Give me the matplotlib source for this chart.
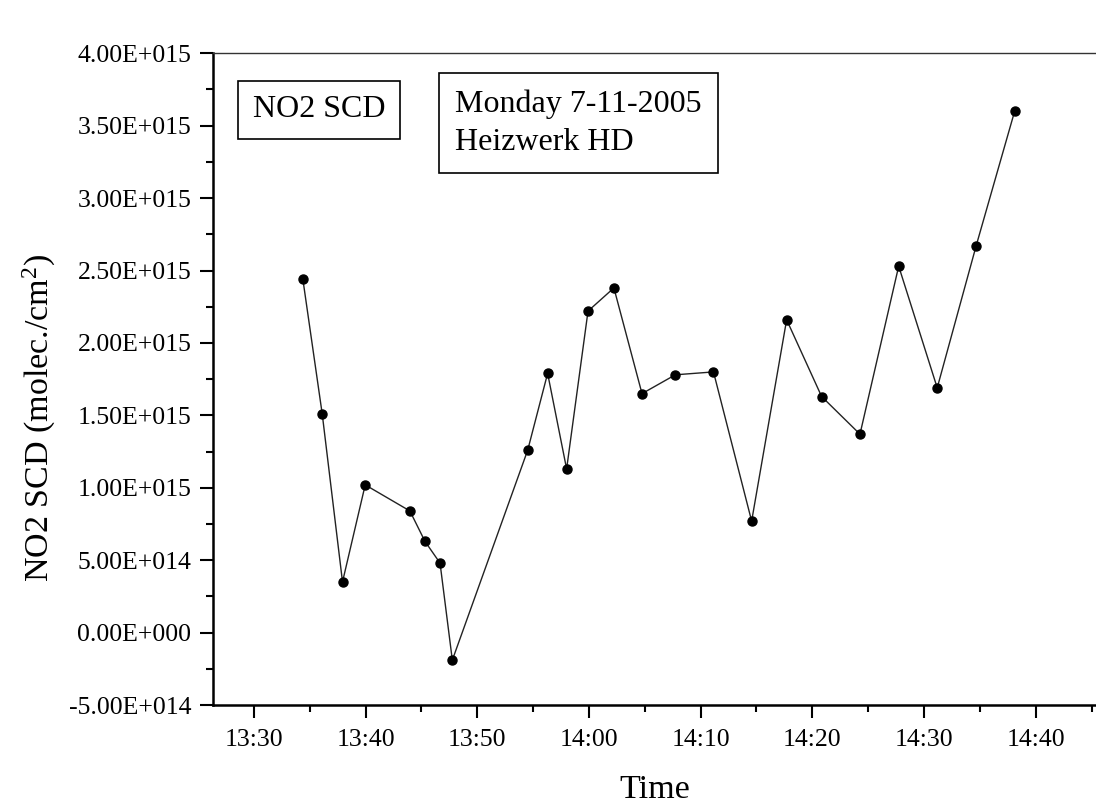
import pandas as pd
import matplotlib
matplotlib.use("Agg")
import matplotlib.pyplot as plt
import matplotlib.dates as mdates
from matplotlib.ticker import MultipleLocator, FuncFormatter

# Measurement times and NO2 slant column densities (molec./cm2)
times = [
    "13:34:23", "13:36:07", "13:37:56", "13:39:58", "13:43:58", "13:45:19",
    "13:46:40", "13:47:46", "13:54:31", "13:56:18", "13:58:00", "13:59:55",
    "14:02:14", "14:04:45", "14:07:44", "14:11:09", "14:14:34", "14:17:42",
    "14:20:50", "14:24:16", "14:27:44", "14:31:11", "14:34:40", "14:38:07",
]
scd = [
    2.44e15, 1.51e15, 0.35e15, 1.02e15, 0.84e15, 0.63e15,
    0.48e15, -0.19e15, 1.26e15, 1.79e15, 1.13e15, 2.22e15,
    2.38e15, 1.65e15, 1.78e15, 1.80e15, 0.77e15, 2.16e15,
    1.63e15, 1.37e15, 2.53e15, 1.69e15, 2.67e15, 3.60e15,
]

plt.rcParams["font.family"] = ["Liberation Serif", "DejaVu Serif"]
plt.rcParams["mathtext.fontset"] = "custom"
plt.rcParams["mathtext.rm"] = "Liberation Serif"
plt.rcParams["mathtext.it"] = "Liberation Serif:italic"

t = pd.to_datetime(["2005-11-07 " + s for s in times])


def sci_fmt(v, pos):
    # Origin style: 3-digit exponent, e.g. 4.00E+015
    if v == 0:
        return "0.00E+000"
    s = f"{v:.2E}"
    mant, exp = s.split("E")
    return f"{mant}E{exp[0]}{int(exp[1:]):03d}"


fig = plt.figure(figsize=(10.96, 8.05), dpi=100)
ax = fig.add_axes([0.1943, 0.1242, 0.8057, 0.8096])

ax.plot(t, scd, color="#222222", lw=1.0, marker="o", ms=6.5,
        mfc="black", mec="black")

ax.set_xlim(pd.Timestamp("2005-11-07 13:26:20"), pd.Timestamp("2005-11-07 14:45:24"))
ax.set_ylim(-5e14, 4e15)

ax.xaxis.set_major_locator(mdates.MinuteLocator(byminute=range(0, 60, 10)))
ax.xaxis.set_minor_locator(mdates.MinuteLocator(byminute=range(5, 60, 10)))
ax.xaxis.set_major_formatter(mdates.DateFormatter("%H:%M"))
ax.yaxis.set_major_locator(MultipleLocator(5e14))
ax.yaxis.set_minor_locator(MultipleLocator(2.5e14))
ax.yaxis.set_major_formatter(FuncFormatter(sci_fmt))
ax.yaxis.get_offset_text().set_visible(False)

ax.spines["right"].set_visible(False)
ax.spines["left"].set_linewidth(1.8)
ax.spines["bottom"].set_linewidth(1.8)
ax.spines["top"].set_linewidth(1.0)
ax.spines["top"].set_color("#333333")

ax.tick_params(which="major", direction="out", length=9.5, width=1.5,
               labelsize=18.5, pad=6, top=False, right=False)
ax.tick_params(axis="x", which="major", pad=8)
ax.tick_params(which="minor", direction="out", length=5, width=1.5,
               top=False, right=False)

ax.set_xlabel("Time", fontsize=24.5, labelpad=17)
ax.set_ylabel("NO2 SCD (molec./cm$^2$)", fontsize=24.5, labelpad=8)
ax.yaxis.label.set_y(0.44)

ax.text(0.0450, 0.913, "NO2 SCD", transform=ax.transAxes, fontsize=23,
        va="center", ha="left",
        bbox=dict(boxstyle="square,pad=0.45", fc="white", ec="black", lw=1.2))
ax.text(0.2740, 0.893, "Monday 7-11-2005\nHeizwerk HD", transform=ax.transAxes,
        fontsize=23, va="center", ha="left", linespacing=1.4,
        bbox=dict(boxstyle="square,pad=0.5", fc="white", ec="black", lw=1.2))

fig.savefig("out.png", dpi=100, facecolor="white")
